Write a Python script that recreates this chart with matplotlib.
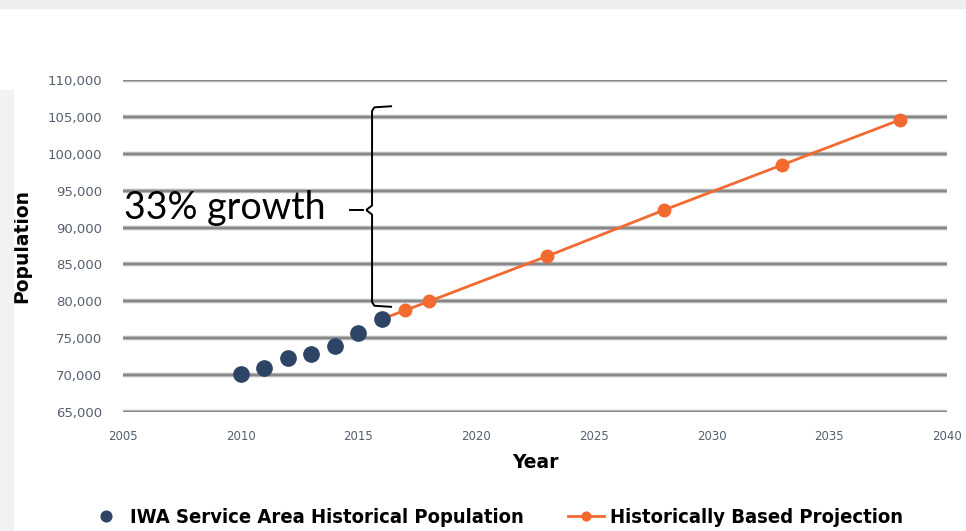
import matplotlib.pyplot as plt
from matplotlib.patches import Rectangle

# Data
hist_years = [2010, 2011, 2012, 2013, 2014, 2015, 2016]
hist_pop = [70150, 71000, 72300, 72900, 73900, 75700, 77600]

proj_years = [2016, 2017, 2018, 2023, 2028, 2033, 2038]
proj_pop = [77600, 78800, 80000, 86100, 92400, 98500, 104600]

y_ticks = list(range(65000, 110001, 5000))
x_ticks = list(range(2005, 2041, 5))

navy = '#2d4466'
orange = '#f26a30'
font = ['DejaVu Sans']

fig = plt.figure(figsize=(9.66, 5.31), dpi=100)
fig.patches.append(Rectangle((0, 0.985), 1, 0.015, transform=fig.transFigure,
                             color='#eeeeee', zorder=0))
fig.patches.append(Rectangle((0, 0), 0.013, 0.83, transform=fig.transFigure,
                             color='#f2f2f2', zorder=0))

ax = fig.add_axes([0.1273, 0.2241, 0.853, 0.6252])
ax.set_xlim(2005, 2040)
ax.set_ylim(65000, 110000)

# thick gray gridlines
for yv in y_ticks:
    ax.axhline(yv, color='#b5b5b5', lw=3.2, zorder=1)
    ax.axhline(yv, color='#808080', lw=1.2, zorder=1)

ax.plot(proj_years, proj_pop, color=orange, lw=2, marker='o', ms=9,
        label='Historically Based Projection', zorder=3)
ax.plot(hist_years, hist_pop, ls='none', marker='o', ms=11, color=navy,
        label='IWA Service Area Historical Population', zorder=4)

for s in ax.spines.values():
    s.set_visible(False)
ax.set_xticks(x_ticks)
ax.set_yticks(y_ticks)
ax.set_yticklabels([f'{v:,}' for v in y_ticks])
ax.tick_params(length=0, colors='#556070')
ax.tick_params(axis='y', pad=15, labelsize=9.5)
ax.tick_params(axis='x', pad=13, labelsize=8.5)
for lab in ax.get_xticklabels() + ax.get_yticklabels():
    lab.set_family(font)

ax.set_xlabel('Year', fontsize=13.5, fontweight='bold', family=font, labelpad=7)
ax.set_ylabel('Population', fontsize=13.5, fontweight='bold', family=font, labelpad=12)

# curly brace annotation
bx = 2015.58
ax.plot([bx + 0.85, bx + 0.1, bx, bx, bx - 0.25], [106450, 106300, 105800, 93000, 92380],
        color='black', lw=1.4, zorder=5, clip_on=False, solid_capstyle='butt')
ax.plot([bx + 0.85, bx + 0.1, bx, bx, bx - 0.25], [79250, 79400, 79900, 91760, 92380],
        color='black', lw=1.4, zorder=5, clip_on=False, solid_capstyle='butt')
ax.plot([2014.64, 2015.2], [92380, 92380], color='black', lw=1.4, zorder=5, clip_on=False)
ax.text(2005.05, 92700, '33% growth', fontsize=27, family=['Lato', 'DejaVu Sans'],
        va='center', ha='left', color='black', zorder=6)

handles, labels = ax.get_legend_handles_labels()
leg = fig.legend(handles[::-1], labels[::-1], loc='center', bbox_to_anchor=(0.513, 0.025),
                 ncol=2, frameon=False, columnspacing=2.2, markerscale=0.7,
                 handlelength=1.8, handletextpad=0.3,
                 prop={'family': font, 'weight': 'bold', 'size': 14.5, 'stretch': 'condensed'})

fig.savefig('out.png', dpi=100)
